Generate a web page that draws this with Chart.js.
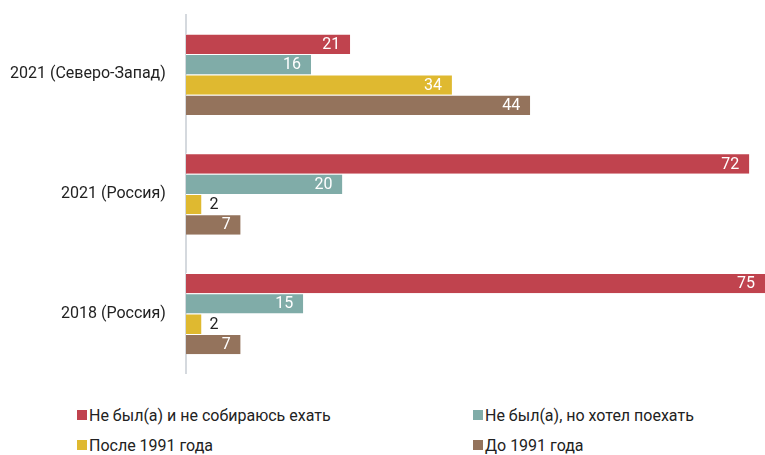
<!DOCTYPE html>
<html>
<head>
<meta charset="utf-8">
<script src="https://cdn.jsdelivr.net/npm/chart.js@4"></script>
<style>
    body { margin: 0; background: #fff; font-family: "Roboto", sans-serif; }
    #wrap { position: relative; width: 765px; height: 418px; margin-top: -15px; }
    #legend { position: absolute; left: 77px; top: 405px; width: 688px; display: grid; grid-template-columns: 396px 290px; row-gap: 10px; }
    .item { display: flex; align-items: center; font-size: 16px; color: #222; height: 20px; }
    .box { width: 10px; height: 10px; margin-right: 2px; }
</style>
</head>
<body>
<div id="wrap"><canvas id="chart"></canvas></div>
<div id="legend"></div>
<script>
    const categories = ['2021 (Северо-Запад)', '2021 (Россия)', '2018 (Россия)'];
    const seriesNames = ['Не был(а) и не собираюсь ехать', 'Не был(а), но хотел поехать', 'После 1991 года', 'До 1991 года'];
    const notGoing = [21, 72, 75];
    const wantedTo = [16, 20, 15];
    const after1991 = [34, 2, 2];
    const before1991 = [44, 7, 7];
    const colors = ['#c0434e', '#80aca8', '#dfb930', '#94735c'];

    const font = '"Roboto", sans-serif';

    // value labels: white inside the bar end, black outside for tiny bars
    const valueLabels = {
        id: 'valueLabels',
        afterDatasetsDraw(chart) {
            const ctx = chart.ctx;
            ctx.save();
            ctx.font = '16px ' + font;
            ctx.textBaseline = 'middle';
            chart.data.datasets.forEach((ds, i) => {
                chart.getDatasetMeta(i).data.forEach((bar, j) => {
                    const v = ds.data[j];
                    const x = Math.min(bar.x, chart.chartArea.right);
                    if (v < 5) {
                        ctx.fillStyle = '#222';
                        ctx.textAlign = 'left';
                        ctx.fillText(v, x + 8, bar.y + 1);
                    } else {
                        ctx.fillStyle = '#fff';
                        ctx.textAlign = 'right';
                        ctx.fillText(v, x - 10, bar.y + 1);
                    }
                });
            });
            ctx.restore();
        }
    };

    const chart = new Chart(document.getElementById('chart'), {
        type: 'bar',
        data: {
            labels: categories,
            datasets: [notGoing, wantedTo, after1991, before1991].map((d, i) => ({
                label: seriesNames[i],
                data: d,
                backgroundColor: colors[i],
                borderColor: '#fff',
                borderWidth: { top: 1, bottom: 0, left: 0, right: 0 },
                borderSkipped: false,
                barPercentage: 1,
                categoryPercentage: 0.68
            }))
        },
        options: {
            indexAxis: 'y',
            responsive: true,
            maintainAspectRatio: false,
            animation: false,
            layout: { padding: { top: 4, right: 0, bottom: 0, left: -10 } },
            plugins: {
                legend: { display: false },
                tooltip: { enabled: false }
            },
            scales: {
                x: {
                    min: 0,
                    max: 74,
                    display: false
                },
                y: {
                    grid: { display: false, drawTicks: false },
                    border: { display: true, color: '#d5d9de', width: 2 },
                    ticks: { color: '#222', padding: 20, font: { size: 16, family: font } }
                }
            }
        },
        plugins: [valueLabels]
    });

    const legend = document.getElementById('legend');
    seriesNames.forEach((name, i) => {
        legend.innerHTML += '<div class="item"><span class="box" style="background:' + colors[i] + '"></span>' + name + '</div>';
    });
</script>
</body>
</html>
